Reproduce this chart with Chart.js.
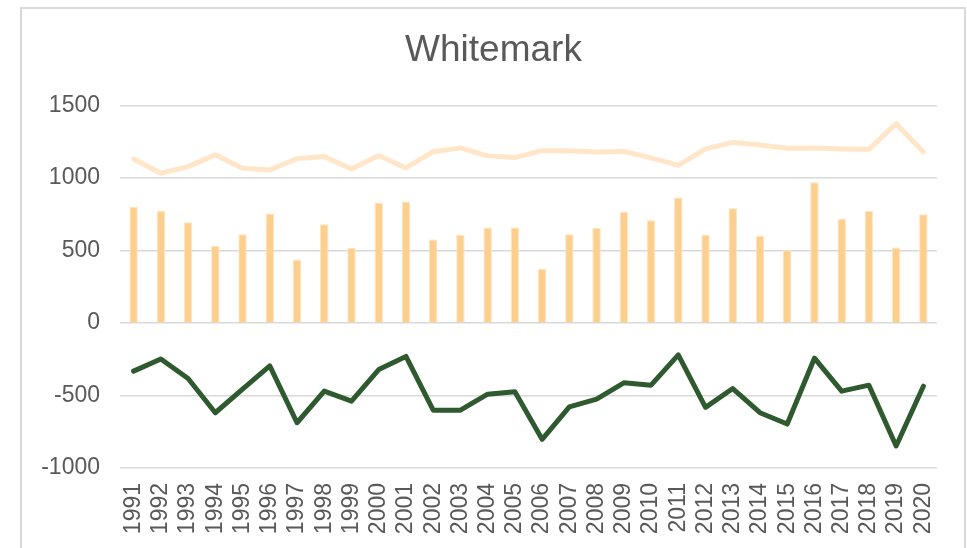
<!DOCTYPE html>
<html>
<head>
<meta charset="utf-8">
<script src="https://cdn.jsdelivr.net/npm/chart.js@4.4.1/dist/chart.umd.min.js"></script>
<style>
  html, body { margin: 0; padding: 0; background: #ffffff; overflow: hidden; }
  #wrap { position: absolute; left: 0; top: 0; width: 967px; height: 548px; }
  #frame { position: absolute; left: 20px; top: 7px; width: 946px; height: 560px; border: 2px solid #d9d9d9; box-sizing: border-box; pointer-events: none; }
</style>
</head>
<body>
<div id="wrap"><canvas id="c" width="967" height="548"></canvas></div>
<div id="frame"></div>
<script>
const years = ['1991','1992','1993','1994','1995','1996','1997','1998','1999','2000','2001','2002','2003','2004','2005','2006','2007','2008','2009','2010','2011','2012','2013','2014','2015','2016','2017','2018','2019','2020'];
const barValues = [801,773,695,530,612,755,438,681,516,828,837,576,608,658,658,374,612,654,768,709,865,608,791,603,502,970,718,773,521,750];
const upperLine = [1131,1032,1078,1159,1066,1055,1133,1147,1062,1154,1069,1181,1207,1152,1140,1188,1188,1179,1183,1138,1087,1200,1245,1227,1204,1207,1200,1197,1374,1181];
const lowerLine = [-332,-248,-383,-619,-456,-296,-688,-470,-539,-321,-231,-601,-601,-491,-475,-802,-578,-525,-413,-429,-220,-582,-452,-619,-697,-243,-470,-429,-848,-436];
const yMin = -1000, yMax = 1500, yStep = 500;
const chartTitle = 'Whitemark';

const textColor = '#595959';
const fontFamily = '"Liberation Sans", Arial, sans-serif';

new Chart(document.getElementById('c'), {
  data: {
    labels: years,
    datasets: [
      {
        type: 'bar',
        label: 'Series 1',
        data: barValues,
        backgroundColor: '#fdcf8e',
        borderColor: '#fee3bd',
        borderWidth: 1,
        categoryPercentage: 1.0,
        barPercentage: 0.31,
        order: 3
      },
      {
        type: 'line',
        label: 'Series 2',
        data: upperLine,
        borderColor: '#ffe6c8',
        borderWidth: 5,
        pointRadius: 0,
        borderCapStyle: 'round',
        borderJoinStyle: 'round',
        tension: 0,
        fill: false,
        order: 2
      },
      {
        type: 'line',
        label: 'Series 3',
        data: lowerLine,
        borderColor: '#2f5a2f',
        borderWidth: 5,
        pointRadius: 0,
        borderCapStyle: 'round',
        borderJoinStyle: 'round',
        tension: 0,
        fill: false,
        order: 1
      }
    ]
  },
  options: {
    responsive: false,
    animation: false,
    devicePixelRatio: 1,
    layout: { padding: { left: 30, right: 10, top: 0, bottom: 0 } },
    plugins: {
      legend: { display: false },
      tooltip: { enabled: false },
      title: {
        display: true,
        text: chartTitle,
        color: textColor,
        font: { family: fontFamily, size: 37, weight: 'normal' },
        padding: { top: 29, bottom: 32 }
      }
    },
    scales: {
      x: {
        offset: true,
        grid: { display: false, drawTicks: false },
        border: { display: false },
        ticks: {
          color: textColor,
          font: { family: fontFamily, size: 23 },
          maxRotation: 90,
          minRotation: 90,
          autoSkip: false,
          padding: 15
        },
        afterFit: (s) => { s.height = 80; }
      },
      y: {
        min: yMin,
        max: yMax,
        grid: { color: '#d9d9d9', lineWidth: 1.5, drawTicks: false },
        border: { display: false },
        ticks: {
          stepSize: yStep,
          color: textColor,
          font: { family: fontFamily, size: 23 },
          padding: 20,
          callback: (v) => String(v)
        },
        afterFit: (s) => { s.width = 90; }
      },
      ySpacer: {
        position: 'right',
        display: true,
        grid: { display: false, drawTicks: false },
        border: { display: false },
        ticks: { display: false },
        afterFit: (s) => { s.width = 20; }
      }
    }
  }
});
</script>
</body>
</html>
